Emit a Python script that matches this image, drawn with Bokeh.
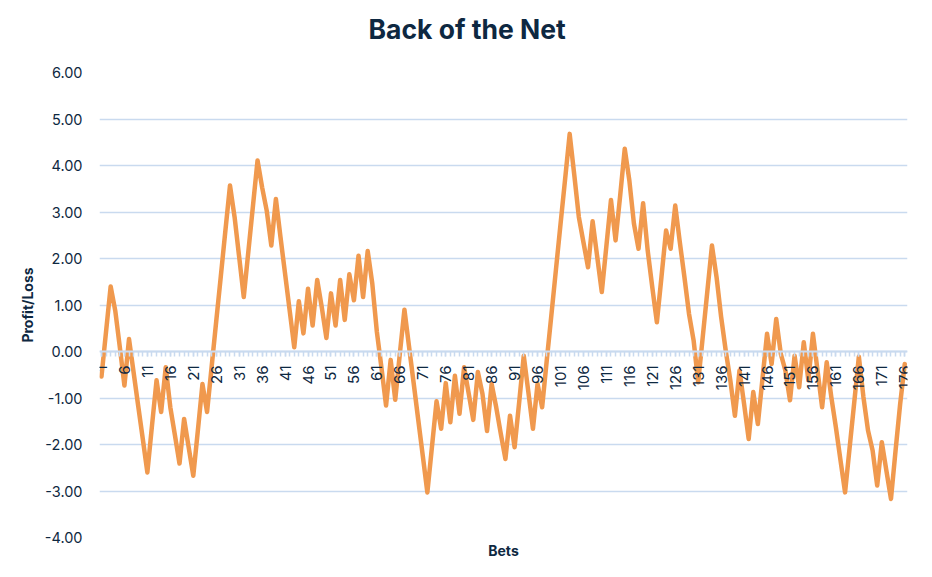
import math
from bokeh.plotting import figure
from bokeh.models import FixedTicker, Range1d, Title, NumeralTickFormatter
from bokeh.embed import file_html
from bokeh.resources import INLINE

# ---- data ----
bets = list(range(1, 177))
profit = [
    -0.54, 0.43, 1.40, 0.88, 0.09, -0.73, 0.27, -0.45, -1.17, -1.88,
    -2.60, -1.60, -0.62, -1.30, -0.34, -1.20, -1.80, -2.41, -1.45, -2.06,
    -2.67, -1.70, -0.70, -1.30, -0.33, 0.65, 1.62, 2.60, 3.57, 2.89,
    2.03, 1.17, 2.15, 3.13, 4.11, 3.53, 3.03, 2.28, 3.28, 2.46,
    1.67, 0.88, 0.09, 1.08, 0.39, 1.35, 0.56, 1.54, 0.95, 0.29,
    1.25, 0.56, 1.54, 0.68, 1.66, 1.10, 2.06, 1.17, 2.16, 1.46,
    0.42, -0.35, -1.16, -0.18, -1.04, -0.05, 0.90, 0.11, -0.67, -1.46,
    -2.24, -3.03, -2.05, -1.07, -1.66, -0.68, -1.52, -0.52, -1.34, -0.34,
    -0.90, -1.47, -0.44, -0.91, -1.71, -0.70, -1.20, -1.77, -2.31, -1.38,
    -2.06, -1.09, -0.09, -0.87, -1.66, -0.70, -1.20, -0.20, 0.77, 1.75,
    2.73, 3.70, 4.68, 3.80, 2.89, 2.35, 1.81, 2.80, 2.04, 1.28,
    2.27, 3.26, 2.39, 3.35, 4.36, 3.68, 2.75, 2.21, 3.19, 2.17,
    1.38, 0.63, 1.60, 2.60, 2.21, 3.14, 2.35, 1.60, 0.81, 0.24,
    -0.66, 0.32, 1.30, 2.28, 1.60, 0.74, 0.02, -0.62, -1.38, -0.41,
    -1.13, -1.88, -0.87, -1.56, -0.59, 0.38, -0.27, 0.70, -0.05, -0.41,
    -1.05, -0.09, -0.77, 0.20, -0.62, 0.38, -0.41, -1.20, -0.23, -0.98,
    -1.63, -2.34, -3.03, -2.06, -1.09, -0.11, -0.98, -1.70, -2.13, -2.88,
    -1.95, -2.56, -3.17, -2.13, -1.13, -0.27,
]
x_label_ticks = list(range(1, 177, 5))
y_ticks = [-4, -3, -2, -1, 0, 1, 2, 3, 4, 5, 6]

title_text = "Back of the Net"
x_title = "Bets"
y_title = "Profit/Loss"

# ---- styles / layout ----
NAVY = "#0E2841"
GRID = "#C9DAEF"
ORANGE = "#F0994E"
FONT = "Inter"

W, H = 916, 561
LEFT, RIGHT, TOP, BOTTOM = 99, 907, 72, 537

p = figure(
    width=W, height=H,
    output_backend="svg", toolbar_location=None,
    x_range=Range1d(0.57, 176.6), y_range=Range1d(-4, 6),
    min_border_left=LEFT, min_border_right=W - RIGHT,
    min_border_top=TOP, min_border_bottom=H - BOTTOM,
)
p.outline_line_color = None
p.background_fill_color = "white"
p.border_fill_color = "white"

# grid
p.xgrid.visible = False
p.ygrid.ticker = FixedTicker(ticks=y_ticks)
p.ygrid.grid_line_color = GRID
p.ygrid.grid_line_width = 1.5

# y axis
ya = p.yaxis[0]
ya.ticker = FixedTicker(ticks=y_ticks)
ya.formatter = NumeralTickFormatter(format="0.00")
ya.axis_line_color = None
ya.major_tick_line_color = None
ya.minor_tick_line_color = None
ya.major_tick_out = 0
ya.major_label_standoff = 17
ya.major_label_text_font = FONT
ya.major_label_text_font_size = "14.5px"
ya.major_label_text_color = NAVY
ya.axis_label = y_title
ya.axis_label_text_font = FONT
ya.axis_label_text_font_size = "14px"
ya.axis_label_text_font_style = "bold"
ya.axis_label_text_color = NAVY
ya.axis_label_standoff = 6

# x axis crossing at zero
xa = p.xaxis[0]
xa.fixed_location = 0
xa.ticker = FixedTicker(ticks=x_label_ticks, minor_ticks=bets)
xa.axis_line_color = GRID
xa.axis_line_width = 2
xa.major_tick_line_color = GRID
xa.minor_tick_line_color = GRID
xa.major_tick_line_width = 1.5
xa.minor_tick_line_width = 1.5
xa.major_tick_in = 0
xa.minor_tick_in = 0
xa.major_tick_out = 5
xa.minor_tick_out = 5
xa.major_label_orientation = math.pi / 2
xa.major_label_standoff = 9
xa.major_label_text_font = FONT
xa.major_label_text_font_size = "15px"
xa.major_label_text_color = NAVY

# series
p.line(bets, profit, line_color=ORANGE, line_width=4.5,
       line_join="round", line_cap="round")

# titles: a blank spacer next to the frame pushes the chart title up
p.add_layout(Title(text=" ", standoff=0, text_font=FONT,
                   text_font_size="10px"), "above")
p.add_layout(Title(text=title_text, align="left", offset=269, standoff=24,
                   vertical_align="top",
                   text_font=FONT, text_font_size="26.5px",
                   text_font_style="bold", text_color=NAVY), "above")
p.add_layout(Title(text=x_title, align="center", standoff=4,
                   text_font=FONT, text_font_size="14px",
                   text_font_style="bold", text_color=NAVY), "below")

open("out.html", "w").write(file_html(p, INLINE))
